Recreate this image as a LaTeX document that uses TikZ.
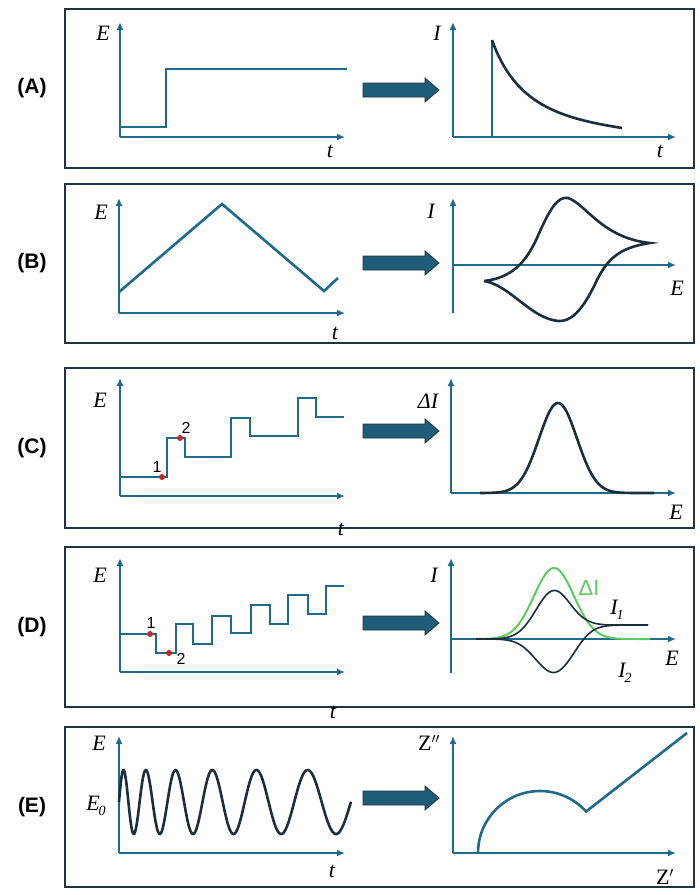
\documentclass[tikz,border=0pt]{standalone}
\usepackage{fontspec}
\setmainfont{Liberation Serif}
\newfontfamily\labfont{Liberation Sans}
\usetikzlibrary{arrows.meta}
\definecolor{axc}{HTML}{1F6A8A}
\definecolor{crv}{HTML}{1A2E3B}
\definecolor{boxc}{HTML}{1E3440}
\definecolor{arrf}{HTML}{1F5C7A}
\definecolor{grn}{HTML}{5DCB5D}
\definecolor{dotc}{HTML}{C0282A}
\tikzset{
  panel/.style={draw=boxc,line width=2pt},
  axis/.style={draw=axc,line width=1.6pt,-{Latex[length=8pt,width=7pt]}},
  sig/.style={draw=axc,line width=2.6pt},
  resp/.style={draw=crv,line width=2.6pt},
  thin resp/.style={draw=crv,line width=1.6pt},
  lbl/.style={font=\fontsize{22}{22}\selectfont\itshape,inner sep=0pt},
  sublbl/.style={font=\fontsize{14}{14}\selectfont\itshape},
  plab/.style={font=\labfont\bfseries\fontsize{21}{21}\selectfont,inner sep=0pt},
  num/.style={font=\labfont\fontsize{16}{16}\selectfont,inner sep=0pt},
  rdot/.style={fill=dotc,circle,inner sep=0pt,minimum size=6pt},
  barrow/.style={fill=arrf,draw=boxc,line width=0.8pt}
}
\newcommand{\bigarrow}[1]{\path[barrow] (363,#1-7) -- (425,#1-7) -- (425,#1-12) -- (439,#1) -- (425,#1+12) -- (425,#1+7) -- (363,#1+7) -- cycle;}
\begin{document}
\begin{tikzpicture}[x=1pt,y=-1pt]
\useasboundingbox (0,0) rectangle (700,895);
% boxes
\draw[panel] (65,9) rectangle (694,168);
\draw[panel] (65,184) rectangle (694,343);
\draw[panel] (65,368) rectangle (694,528);
\draw[panel] (65,547) rectangle (694,707);
\draw[panel] (65,727) rectangle (694,887);
\node[plab] (la) at (32,88) {(A)};
\node[plab] (lb) at (32,263) {(B)};
\node[plab] (lc) at (32,448) {(C)};
\node[plab] (ld) at (32,627) {(D)};
\node[plab] (le) at (32,807) {(E)};
% ---------- A
\draw[axis] (120,137) -- (120,22);
\draw[axis] (120,137) -- (345,137);
\draw[sig] (120,127) -- (166,127) -- (166,69) -- (347,69);
\node[lbl] (ea) at (103,33) {E};
\node[lbl] (ta) at (330,151) {t};
\bigarrow{90}
\draw[axis] (453,137) -- (453,22);
\draw[axis] (453,137) -- (676,137);
\draw[sig] (492,137) -- (492,40);
\draw[resp] (492,40) .. controls (515,105) and (560,118) .. (622,128);
\node[lbl] (ia) at (437,33) {I};
\node[lbl] (tb) at (660,151) {t};
% ---------- B
\draw[axis] (119,313) -- (119,198);
\draw[axis] (119,313) -- (345,313);
\draw[sig] (119,292) -- (222,204) -- (324,291) -- (338,278);
\node[lbl] (eb) at (101,212) {E};
\node[lbl] (tbb) at (335,333) {t};
\bigarrow{263}
\draw[axis] (453,313) -- (453,198);
\draw[axis] (453,265) -- (676,265);
\draw[resp] (484,281) .. controls (512,278) and (526,262) .. (537,238)
  .. controls (550,208) and (558,196) .. (568,198)
  .. controls (586,204) and (602,238) .. (650,243)
  .. controls (616,248) and (606,262) .. (596,282)
  .. controls (582,312) and (570,322) .. (558,321)
  .. controls (530,318) and (510,285) .. (484,281);
\node[lbl] (ib) at (431,211) {I};
\node[lbl] (eb2) at (677,288) {E};
% ---------- C
\draw[axis] (120,496) -- (120,378);
\draw[axis] (120,496) -- (345,496);
\draw[sig] (120,477) -- (167,477) -- (167,438) -- (185,438) -- (185,457) -- (231,457)
  -- (231,418) -- (250,418) -- (250,436) -- (298,436) -- (298,398) -- (316,398)
  -- (316,417) -- (344,417);
\node[rdot] (c1) at (162,477) {};
\node[rdot] (c2) at (180,438) {};
\node[num] (n1) at (157,467) {1};
\node[num] (n2) at (186,428) {2};
\node[lbl] (ec) at (100,400) {E};
\node[lbl] (tc) at (341,529) {t};
\bigarrow{431}
\draw[axis] (451,493) -- (451,378);
\draw[axis] (451,493) -- (676,493);
\draw[resp] plot[domain=480:654,samples=120,smooth] (\x,{493-90*exp(-((\x-558)/19)^2/2)});
\node[lbl] (ic) at (428,401) {ΔI};
\node[lbl] (ec2) at (676,512) {E};
% ---------- D
\draw[axis] (120,672) -- (120,558);
\draw[axis] (120,672) -- (345,672);
\draw[sig,line width=2pt] (120,634) -- (156,634) -- (156,653) -- (176,653) -- (176,624) -- (193,624)
  -- (193,644) -- (212,644) -- (212,616) -- (231,616) -- (231,633) -- (251,633)
  -- (251,605) -- (270,605) -- (270,624) -- (288,624) -- (288,595) -- (308,595)
  -- (308,614) -- (326,614) -- (326,586) -- (344,586);
\node[rdot] (d1) at (150,634) {};
\node[rdot] (d2) at (169,653) {};
\node[num] (m1) at (151,623) {1};
\node[num] (m2) at (181,659) {2};
\node[lbl] (ed) at (100,575) {E};
\node[lbl] (td) at (333,712) {t};
\bigarrow{623}
\draw[axis] (451,673) -- (451,558);
\draw[axis] (451,639) -- (676,639);
\draw[draw=grn,line width=2pt] plot[domain=476:650,samples=120,smooth] (\x,{639-71*exp(-((\x-554)/20)^2/2)});
\draw[thin resp] plot[domain=476:648,samples=120,smooth] (\x,{639-48*exp(-((\x-554)/18)^2/2)-14/(1+exp(min(8,-(\x-580)/8)))});
\draw[thin resp] plot[domain=476:648,samples=120,smooth] (\x,{639+34*exp(-((\x-554)/18)^2/2)-14/(1+exp(min(8,-(\x-580)/8)))});
\node[font=\labfont\fontsize{22}{22}\selectfont,text=grn,inner sep=0pt] (dI) at (589,588) {ΔI};
\node[lbl] (i1) at (617,610) {I\kern-1pt\raisebox{-5pt}{\fontsize{14}{14}\selectfont 1}};
\node[lbl] (i2) at (625,673) {I\kern-1pt\raisebox{-5pt}{\fontsize{14}{14}\selectfont 2}};
\node[lbl] (ed2) at (672,658) {E};
\node[lbl] (id) at (434,575) {I};
% ---------- E
\draw[axis] (119,853) -- (119,736);
\draw[axis] (119,853) -- (345,853);
\draw[resp] plot[domain=119:351,samples=400,smooth] (\x,{802-32*sin(360*((sqrt(\x-119+20)-sqrt(20))/1.9))});
\node[lbl] (ee) at (99,743) {E};
\node[lbl] (e0) at (96,806) {E\kern-1pt\raisebox{-5pt}{\fontsize{14}{14}\selectfont 0}};
\node[lbl] (te) at (332,871) {t};
\bigarrow{798}
\draw[axis] (453,853) -- (453,736);
\draw[axis] (453,853) -- (676,853);
\draw[sig] (478,853) arc[start angle=180,end angle=318,radius=62] -- (687,733);
\node[lbl,font=\fontsize{22}{22}\selectfont] (zpp) at (429,743) {Z$''$};
\node[lbl,font=\fontsize{22}{22}\selectfont] (zp) at (665,877) {Z$'$};
\end{tikzpicture}
\end{document}
